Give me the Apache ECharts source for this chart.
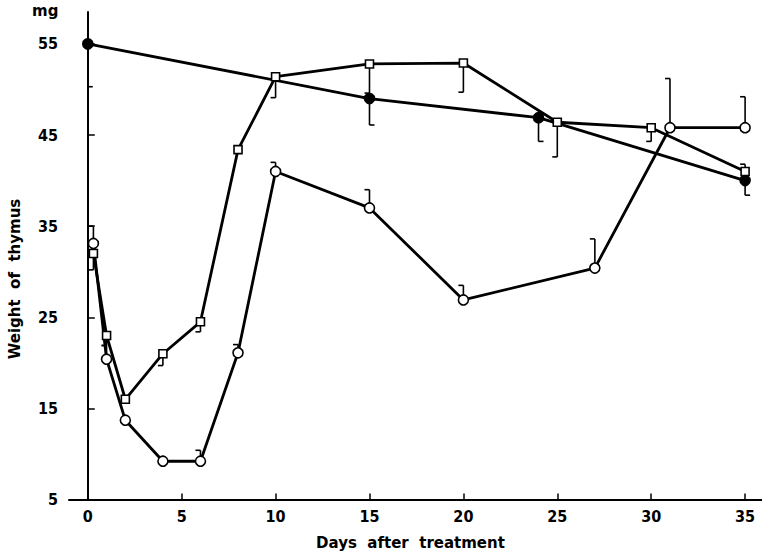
<!DOCTYPE html>
<html>
<head>
<meta charset="utf-8">
<script src="https://cdn.jsdelivr.net/npm/echarts@6/dist/echarts.min.js"></script>
<style>
  html, body { margin: 0; padding: 0; background: #fff; }
  #chart { width: 762px; height: 556px; }
</style>
</head>
<body>
<div id="chart"></div>
<script>
// days after treatment and thymus weight (mg)
var filledDays = [0, 15, 24, 35];
var filledWeight = [55, 49, 46.9, 40];
var filledErr = [50.3, 46.1, 44.3, 38.4];

var squareDays = [0.3, 1, 2, 4, 6, 8, 10, 15, 20, 25, 30, 35];
var squareWeight = [32, 23, 16, 21, 24.5, 43.4, 51.4, 52.8, 52.9, 46.4, 45.8, 41];
var squareErr = [30.2, 21.9, null, 19.7, 23.4, null, 49.1, 49.6, 49.7, 42.6, 44.3, 41.8];

var openDays = [0.3, 1, 2, 4, 6, 8, 10, 15, 20, 27, 31, 35];
var openWeight = [33.1, 20.4, 13.7, 9.2, 9.2, 21.1, 41, 37, 26.9, 30.4, 45.8, 45.8];
var openErr = [35, 21.9, null, null, 10.4, 22, 42, 39, 28.5, 33.6, 51.2, 49.2];

var xTicks = [0, 5, 10, 15, 20, 25, 30, 35];
var yTicks = [5, 15, 25, 35, 45, 55];

var font = '"DejaVu Sans Condensed", "DejaVu Sans", sans-serif';
var nameFont = '"DejaVu Sans", sans-serif';

function pairs(xs, ys) {
  return xs.map(function(x, i) { return [x, ys[i]]; });
}

function errPairs(xs, ys, ends) {
  var out = [];
  xs.forEach(function(x, i) {
    if (ends[i] != null) out.push([x, ys[i], ends[i]]);
  });
  return out;
}

// vertical error line with a small bracket foot; side = +1 foot to the right, -1 to the left
function errorSeries(data, side) {
  return {
    type: 'custom',
    silent: true,
    z: 1,
    data: data,
    renderItem: function(params, api) {
      var p0 = api.coord([api.value(0), api.value(1)]);
      var p1 = api.coord([api.value(0), api.value(2)]);
      var style = { stroke: '#000', lineWidth: 1.6, fill: null };
      return {
        type: 'group',
        children: [
          { type: 'line', shape: { x1: p0[0], y1: p0[1], x2: p1[0], y2: p1[1] }, style: style },
          { type: 'line', shape: { x1: p1[0], y1: p1[1], x2: p1[0] + side * 5, y2: p1[1] }, style: style }
        ]
      };
    }
  };
}

function lineSeries(name, data, symbol, size, fill) {
  return {
    name: name,
    type: 'line',
    data: data,
    z: 3,
    symbol: symbol,
    symbolSize: size,
    showAllSymbol: true,
    lineStyle: { color: '#000', width: 2.8 },
    itemStyle: { color: fill, borderColor: '#000', borderWidth: 1.6 }
  };
}

var chart = echarts.init(document.getElementById('chart'), null, { renderer: 'svg' });
chart.setOption({
  animation: false,
  backgroundColor: '#fff',
  grid: { left: 69, right: 0, top: 12, bottom: 56.5, containLabel: false },
  xAxis: {
    type: 'value',
    min: -1,
    max: 35.9,
    name: 'Days  after  treatment',
    nameLocation: 'middle',
    nameGap: 36,
    nameTextStyle: { color: '#000', fontFamily: nameFont, fontWeight: 'bold', fontSize: 15, padding: [0, 10, 0, 0] },
    axisLine: { lineStyle: { color: '#000', width: 2 } },
    axisTick: { inside: true, length: 6, lineStyle: { color: '#000', width: 1.5 }, customValues: xTicks },
    axisLabel: { color: '#000', fontFamily: font, fontWeight: 'bold', fontSize: 16, margin: 9, customValues: xTicks },
    splitLine: { show: false }
  },
  yAxis: {
    type: 'value',
    min: 5,
    max: 58.5,
    axisLine: { show: true, lineStyle: { color: '#000', width: 2 } },
    axisTick: { show: true, inside: true, length: 7, lineStyle: { color: '#000', width: 1.5 }, customValues: yTicks },
    axisLabel: { color: '#000', fontFamily: font, fontWeight: 'bold', fontSize: 16, margin: 11, customValues: yTicks },
    splitLine: { show: false }
  },
  graphic: [
    {
      type: 'text', left: 32, top: 3,
      style: { text: 'mg', fill: '#000', font: 'bold 15px ' + nameFont }
    },
    {
      type: 'text', x: 15, y: 279, rotation: Math.PI / 2,
      style: { text: 'Weight  of  thymus', fill: '#000', font: 'bold 15px ' + nameFont,
               align: 'center', verticalAlign: 'middle' }
    }
  ],
  series: [
    errorSeries(errPairs(filledDays, filledWeight, filledErr), 1),
    errorSeries(errPairs(squareDays, squareWeight, squareErr), -1),
    errorSeries(errPairs(openDays, openWeight, openErr), -1),
    lineSeries('filled', pairs(filledDays, filledWeight), 'circle', 10, '#000'),
    lineSeries('square', pairs(squareDays, squareWeight), 'rect', 8, '#fff'),
    lineSeries('open', pairs(openDays, openWeight), 'circle', 10, '#fff')
  ]
});
window.addEventListener('resize', function() { chart.resize(); });
</script>
</body>
</html>
